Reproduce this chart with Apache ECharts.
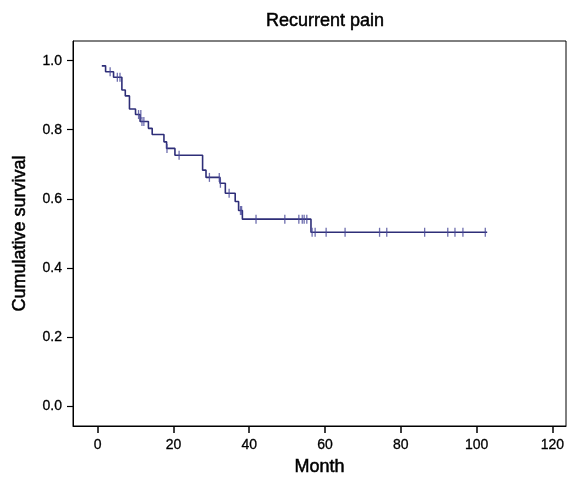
<!DOCTYPE html>
<html><head><meta charset="utf-8">
<script src="https://cdn.jsdelivr.net/npm/echarts@6/dist/echarts.min.js"></script>
<style>html,body{margin:0;padding:0;background:#fff}#c{width:567px;height:477px}</style>
</head><body><div id="c"></div>
<script>
// Step curve: time at which survival changes, and new survival value
var stepTimes = [1.1, 2.1, 4.2, 6.4, 7.3, 8.4, 10.0, 11.2, 13.4, 14.4, 17.5, 18.2, 20.4, 27.7, 28.6, 32.3, 33.7, 36.3, 37.2, 38.2, 56.3, 102.8];
var survival  = [0.985, 0.968, 0.952, 0.915, 0.898, 0.860, 0.844, 0.824, 0.804, 0.786, 0.765, 0.746, 0.726, 0.683, 0.662, 0.645, 0.616, 0.592, 0.566, 0.541, 0.503, 0.503];
// Censored observations
var censorTimes = [3.3, 5.2, 5.9, 10.8, 11.4, 11.7, 12.2, 18.3, 21.5, 29.5, 32.1, 32.4, 34.7, 37.7, 38.0, 41.8, 49.4, 53.1, 54.0, 54.5, 55.2, 56.6, 57.4, 60.3, 65.3, 74.4, 76.3, 86.3, 92.4, 94.3, 96.4, 102.3];
var censorSurv  = [0.968, 0.952, 0.952, 0.844, 0.844, 0.824, 0.824, 0.746, 0.726, 0.662, 0.662, 0.645, 0.616, 0.566, 0.566, 0.541, 0.541, 0.541, 0.541, 0.541, 0.541, 0.503, 0.503, 0.503, 0.503, 0.503, 0.503, 0.503, 0.503, 0.503, 0.503, 0.503];
var xTicks = [0, 20, 40, 60, 80, 100, 120];
var yTicks = [0, 0.2, 0.4, 0.6, 0.8, 1.0];

var lineData = stepTimes.map(function(t, i){ return [t, survival[i]]; });
var censorData = censorTimes.map(function(t, i){ return [t, censorSurv[i]]; });
var FONT = 'Liberation Sans, Arial, sans-serif';
var heavy = { textBorderColor: '#000', textBorderWidth: 0.5 };
var chart = echarts.init(document.getElementById('c'));
chart.setOption({
  animation: false,
  title: { text: 'Recurrent pain', left: 320, top: 7, textAlign: 'center',
    textStyle: Object.assign({ fontFamily: FONT, fontSize: 18, fontWeight: 'normal', color: '#000' }, heavy) },
  grid: { left: 73, top: 41, right: 1, bottom: 51, outerBoundsMode: 'none', containLabel: false,
    show: true, borderColor: '#000', borderWidth: 1, backgroundColor: '#fff' },
  xAxis: {
    type: 'value', min: -6.5, max: 123.6,
    name: 'Month', nameLocation: 'middle', nameGap: 32,
    nameTextStyle: Object.assign({ fontFamily: FONT, fontSize: 18, color: '#000' }, heavy),
    axisLine: { show: true, onZero: false, lineStyle: { color: '#000', width: 1 } },
    axisTick: { show: true, inside: false, length: 7, customValues: xTicks, lineStyle: { color: '#000', width: 1.5 } },
    axisLabel: { customValues: xTicks, margin: 12, fontFamily: FONT, fontSize: 14, color: '#000', textBorderColor: '#000', textBorderWidth: 0.3 },
    splitLine: { show: false }
  },
  yAxis: {
    type: 'value', min: -0.058, max: 1.057,
    name: 'Cumulative survival', nameLocation: 'middle', nameGap: 44, nameRotate: 90,
    nameTextStyle: Object.assign({ fontFamily: FONT, fontSize: 18, color: '#000' }, heavy),
    axisLine: { show: true, onZero: false, lineStyle: { color: '#000', width: 1 } },
    axisTick: { show: true, inside: false, length: 6, customValues: yTicks, lineStyle: { color: '#000', width: 1.2 } },
    axisLabel: { customValues: yTicks, margin: 11, fontFamily: FONT, fontSize: 14, color: '#000', textBorderColor: '#000', textBorderWidth: 0.3,
      formatter: function(v){ return v.toFixed(1); } },
    splitLine: { show: false }
  },
  series: [
    { type: 'line', step: 'end', data: lineData, showSymbol: false, symbol: 'none',
      lineStyle: { color: '#2e2e78', width: 1.6 }, z: 3 },
    { type: 'scatter', data: censorData, symbol: 'rect', symbolSize: [1.3, 9],
      itemStyle: { color: '#4a4a9a' }, z: 4 }
  ]
});
</script></body></html>
